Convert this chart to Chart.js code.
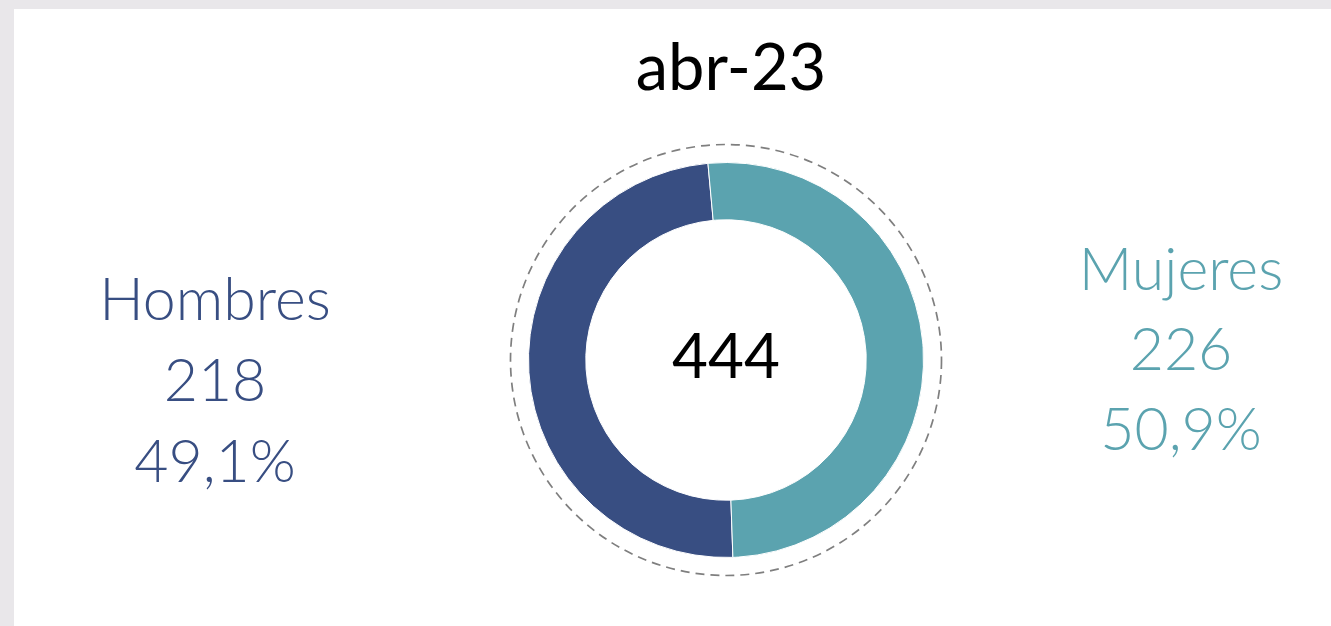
<!DOCTYPE html>
<html>
<head>
<meta charset="utf-8">
<script src="https://cdn.jsdelivr.net/npm/chart.js@4"></script>
<style>
  html, body { margin: 0; padding: 0; background: #e9e7ea; overflow: hidden; }
  #panel { position: absolute; left: 14px; top: 9px; width: 1317px; height: 617px; background: #fff; }
</style>
</head>
<body>
<div id="panel"><canvas id="chart"></canvas></div>
<script>
const period = "abr-23";
const labels = ["Hombres", "Mujeres"];
const values = [218, 226];
const colors = ["#384e82", "#5ba3af"];

const total = values.reduce((a, b) => a + b, 0);
const fmtPct = (v) => (v / total * 100).toFixed(1).replace(".", ",") + "%";

// texts around the donut
const sideText = {
  id: "sideText",
  afterDraw(chart) {
    const ctx = chart.ctx;
    const arc = chart.getDatasetMeta(0).data[0];
    const cx = arc.x, cy = arc.y;

    // dashed ring
    ctx.save();
    ctx.strokeStyle = "#7f7f7f";
    ctx.lineWidth = 1.7;
    ctx.setLineDash([9, 6]);
    ctx.beginPath();
    ctx.arc(cx, cy, arc.outerRadius + 18, 0, Math.PI * 2);
    ctx.stroke();
    ctx.restore();

    ctx.save();
    ctx.textAlign = "center";
    ctx.textBaseline = "alphabetic";

    ctx.fillStyle = "#000";
    ctx.font = "400 65px Lato";
    ctx.fillText(period, cx + 5, 81);

    ctx.font = "400 62px Lato";
    ctx.fillText(String(total), cx, cy + 18);

    ctx.font = "300 59px Lato";
    ctx.fillStyle = colors[0];
    [labels[0], String(values[0]), fmtPct(values[0])].forEach((t, i) => {
      ctx.fillText(t, 201, 311 + i * 81);
    });
    ctx.fillStyle = colors[1];
    [labels[1], String(values[1]), fmtPct(values[1])].forEach((t, i) => {
      ctx.fillText(t, 1167, 281 + i * 80);
    });
    ctx.restore();
  },
};

new Chart(document.getElementById("chart"), {
  type: "doughnut",
  data: {
    labels: labels,
    datasets: [
      {
        data: values,
        backgroundColor: colors,
        borderColor: "#ffffff",
        borderWidth: 1,
      },
    ],
  },
  options: {
    responsive: true,
    maintainAspectRatio: false,
    animation: false,
    rotation: 178,
    cutout: "71%",
    layout: { padding: { left: 514, right: 407, top: 153, bottom: 68 } },
    plugins: {
      legend: { display: false },
      tooltip: { enabled: false },
    },
  },
  plugins: [sideText],
});
</script>
</body>
</html>
